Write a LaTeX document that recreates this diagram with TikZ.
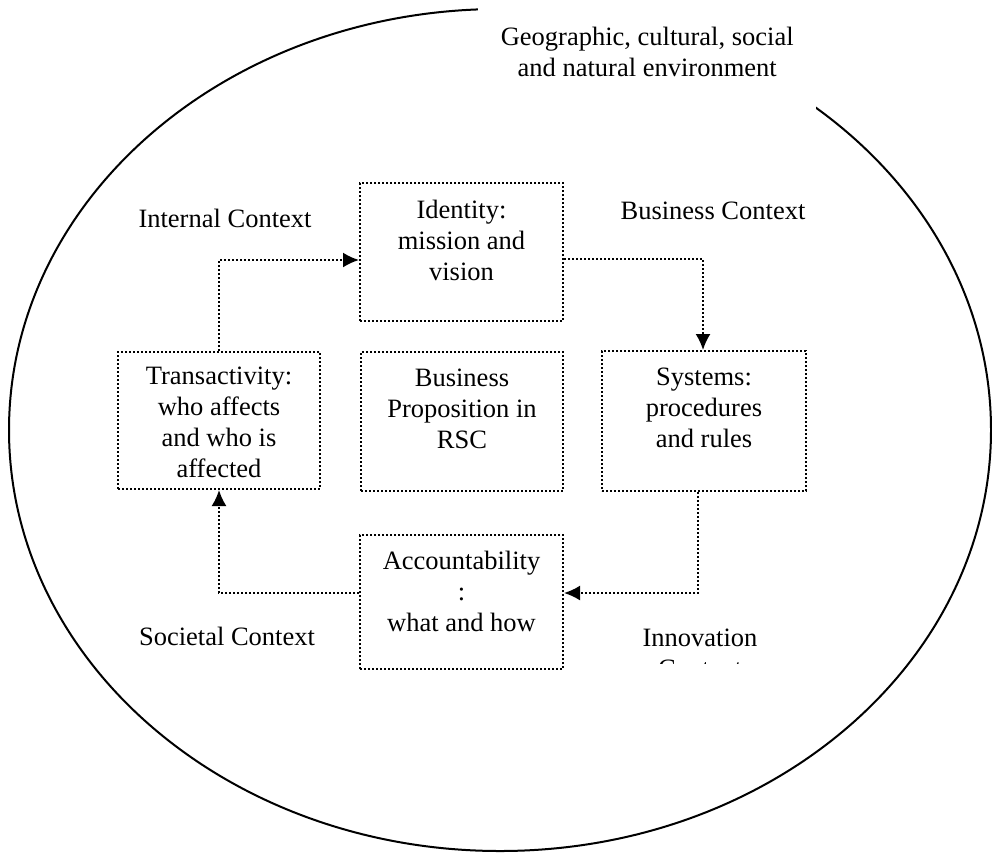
\documentclass[tikz,border=0pt]{standalone}
\usepackage{fontspec}
\setmainfont{Liberation Serif}
\usetikzlibrary{arrows.meta}

% text box: width, height, top gap, lines
\newcommand{\boxtxt}[4]{\begin{minipage}[t][#2][t]{#1}\centering\vspace*{#3}#4\end{minipage}}

\tikzset{
  ctxbox/.style={draw,line width=2pt,dash pattern=on 2pt off 2pt,
    inner sep=0pt,anchor=north west},
  flow/.style={line width=2pt,dash pattern=on 2pt off 2pt,
    -{Latex[length=16pt,width=15pt]}},
  ctxlabel/.style={anchor=base,inner sep=0pt}
}

\begin{document}
\begin{tikzpicture}[x=1pt,y=-1pt,font=\fontsize{26.5}{31}\selectfont]
  \useasboundingbox (0,0) rectangle (992,852) ;
  % outer environment
  \draw[line width=2pt] (500,430) ellipse (491 and 421) ;
  \node[fill=white,inner sep=0pt,anchor=north west] (env) at (478,0)
     {\boxtxt{338pt}{111pt}{27pt}{Geographic, cultural, social\\and natural environment}} ;

  % the five boxes
  \node[ctxbox] (identity) at (359,182)
     {\boxtxt{203pt}{138pt}{17pt}{Identity:\\mission and\\vision}} ;
  \node[ctxbox] (trans) at (117,351)
     {\boxtxt{202pt}{137pt}{15pt}{Transactivity:\\who affects\\and who is\\affected}} ;
  \node[ctxbox] (prop) at (360,351)
     {\boxtxt{202pt}{139pt}{17pt}{Business\\Proposition in\\RSC}} ;
  \node[ctxbox] (systems) at (601,350)
     {\boxtxt{204pt}{140pt}{17pt}{Systems:\\procedures\\and rules}} ;
  \node[ctxbox] (account) at (359,534)
     {\boxtxt{203pt}{134pt}{16pt}{Accountability\\:\\what and how}} ;

  % the four contexts
  \node[ctxlabel] (internal) at (225,227) {Internal Context} ;
  \node[ctxlabel] (business) at (713,219) {Business Context} ;
  \node[ctxlabel] (societal) at (227,645) {Societal Context} ;
  \begin{scope}
    \clip (600,600) rectangle (820,663) ;
    \node[anchor=north,inner sep=0pt,align=center] (innovation) at (700,629)
       {Innovation\\Context} ;
  \end{scope}

  % cycle
  \draw[flow] (trans.north) |- ([yshift=-8pt]identity.west) ;
  \draw[flow] ([yshift=-7pt]identity.east) -| ([xshift=-1pt]systems.north) ;
  \draw[flow] ([xshift=-6pt]systems.south) |- ([yshift=9pt]account.east) ;
  \draw[flow] ([yshift=9pt]account.west) -| (trans.south) ;
\end{tikzpicture}
\end{document}
